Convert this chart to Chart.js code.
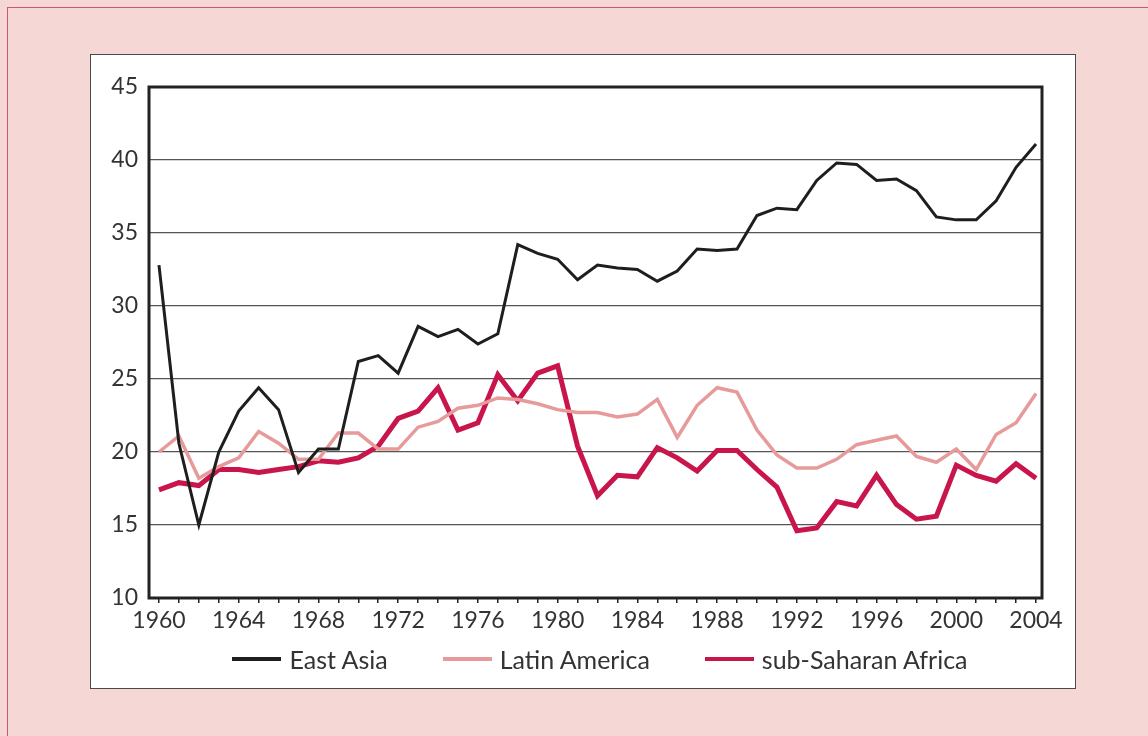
<!DOCTYPE html>
<html>
<head>
<meta charset="utf-8">
<script src="https://cdn.jsdelivr.net/npm/chart.js@4.4.1/dist/chart.umd.min.js"></script>
<style>
  html, body { margin: 0; padding: 0; }
  body { width: 1148px; height: 736px; background: #f5d8d6; position: relative; overflow: hidden; font-family: Lato, sans-serif; }
  #frame { position: absolute; left: 7px; top: 7px; width: 1200px; height: 800px; border: 1.5px solid #d0566c; }
  #box { position: absolute; left: 90px; top: 54px; width: 984px; height: 633px; background: #fff; border: 1px solid #4a4a4a; }
  #wrap { position: absolute; left: 0; top: 0; width: 984px; height: 633px; }
  #legend { position: absolute; left: 17px; top: 590px; width: 984px; height: 28px; display: flex; justify-content: center; gap: 55px; font-size: 25px; line-height: 28px; color: #333; }
  #legend span.item { display: flex; align-items: center; }
  #legend span.swatch { display: inline-block; width: 49px; height: 4px; margin-right: 8px; }
</style>
</head>
<body>
<div id="frame"></div>
<div id="box">
  <div id="wrap"><canvas id="chart"></canvas></div>
  <div id="legend"></div>
</div>
<script>
// years 1960..2004
var years = [];
for (var y = 1960; y <= 2004; y++) years.push(y);

var seriesNames = ['East Asia', 'Latin America', 'sub-Saharan Africa'];

var eastAsia = [32.8, 20.6, 15.0, 20.0, 22.8, 24.4, 22.9, 18.6, 20.2, 20.2,
  26.2, 26.6, 25.4, 28.6, 27.9, 28.4, 27.4, 28.1, 34.2, 33.6,
  33.2, 31.8, 32.8, 32.6, 32.5, 31.7, 32.4, 33.9, 33.8, 33.9,
  36.2, 36.7, 36.6, 38.6, 39.8, 39.7, 38.6, 38.7, 37.9, 36.1,
  35.9, 35.9, 37.2, 39.5, 41.1];

var latinAmerica = [20.0, 21.1, 18.2, 19.0, 19.6, 21.4, 20.6, 19.5, 19.5, 21.3,
  21.3, 20.2, 20.2, 21.7, 22.1, 23.0, 23.2, 23.7, 23.6, 23.3,
  22.9, 22.7, 22.7, 22.4, 22.6, 23.6, 21.0, 23.2, 24.4, 24.1,
  21.5, 19.8, 18.9, 18.9, 19.5, 20.5, 20.8, 21.1, 19.7, 19.3,
  20.2, 18.8, 21.2, 22.0, 24.0];

var subSaharan = [17.4, 17.9, 17.7, 18.8, 18.8, 18.6, 18.8, 19.0, 19.4, 19.3,
  19.6, 20.4, 22.3, 22.8, 24.4, 21.5, 22.0, 25.3, 23.5, 25.4,
  25.9, 20.4, 17.0, 18.4, 18.3, 20.3, 19.6, 18.7, 20.1, 20.1,
  18.8, 17.6, 14.6, 14.8, 16.6, 16.3, 18.4, 16.4, 15.4, 15.6,
  19.1, 18.4, 18.0, 19.2, 18.2];

var yTicks = [10, 15, 20, 25, 30, 35, 40, 45];

function pts(vals) {
  return years.map(function (yr, i) { return { x: yr, y: vals[i] }; });
}

// thick frame round the plot area
var framePlugin = {
  id: 'frame',
  beforeDatasetsDraw: function (chart) {
    var a = chart.chartArea, c = chart.ctx;
    c.save();
    c.strokeStyle = '#222';
    c.lineWidth = 3;
    c.strokeRect(a.left, a.top, a.right - a.left, a.bottom - a.top);
    c.restore();
  }
};

function draw() {
  Chart.defaults.font.family = 'Lato, sans-serif';
  Chart.defaults.font.size = 23;
  Chart.defaults.color = '#333';

  var chart = new Chart(document.getElementById('chart'), {
    type: 'line',
    data: {
      datasets: [
        { label: seriesNames[0], data: pts(eastAsia), borderColor: '#1e1e1e', borderWidth: 3 },
        { label: seriesNames[1], data: pts(latinAmerica), borderColor: '#e69a9a', borderWidth: 3.5 },
        { label: seriesNames[2], data: pts(subSaharan), borderColor: '#c8154b', borderWidth: 5 }
      ]
    },
    options: {
      responsive: true,
      maintainAspectRatio: false,
      animation: false,
      elements: { point: { radius: 0 }, line: { tension: 0, borderJoinStyle: 'miter' } },
      layout: { padding: { left: 10, right: 33, top: 32, bottom: 50 } },
      plugins: { legend: { display: false }, tooltip: { enabled: false } },
      scales: {
        x: {
          type: 'linear',
          min: 1959.5,
          max: 2004.3,
          afterBuildTicks: function (s) { s.ticks = years.map(function (v) { return { value: v }; }); },
          afterFit: function (s) { s.height = 40; },
          border: { display: false },
          grid: { display: true, drawOnChartArea: false, drawTicks: true, tickLength: 5, color: '#222', lineWidth: 1.5 },
          ticks: {
            autoSkip: false, maxRotation: 0, padding: 4,
            callback: function (v) { return v % 4 === 0 ? String(v) : ''; }
          }
        },
        y: {
          min: 10,
          max: 45,
          afterBuildTicks: function (s) { s.ticks = yTicks.map(function (v) { return { value: v }; }); },
          afterFit: function (s) { s.width = 48; },
          border: { display: false },
          grid: { color: '#555', lineWidth: 1.2, drawTicks: false },
          ticks: { padding: 11 }
        }
      }
    },
    plugins: [framePlugin]
  });

  var leg = document.getElementById('legend');
  chart.data.datasets.forEach(function (ds) {
    var item = document.createElement('span');
    item.className = 'item';
    var sw = document.createElement('span');
    sw.className = 'swatch';
    sw.style.background = ds.borderColor;
    item.appendChild(sw);
    item.appendChild(document.createTextNode(ds.label));
    leg.appendChild(item);
  });
}

if (document.fonts && document.fonts.load) {
  document.fonts.load('23px Lato').then(draw, draw);
} else {
  draw();
}
</script>
</body>
</html>
